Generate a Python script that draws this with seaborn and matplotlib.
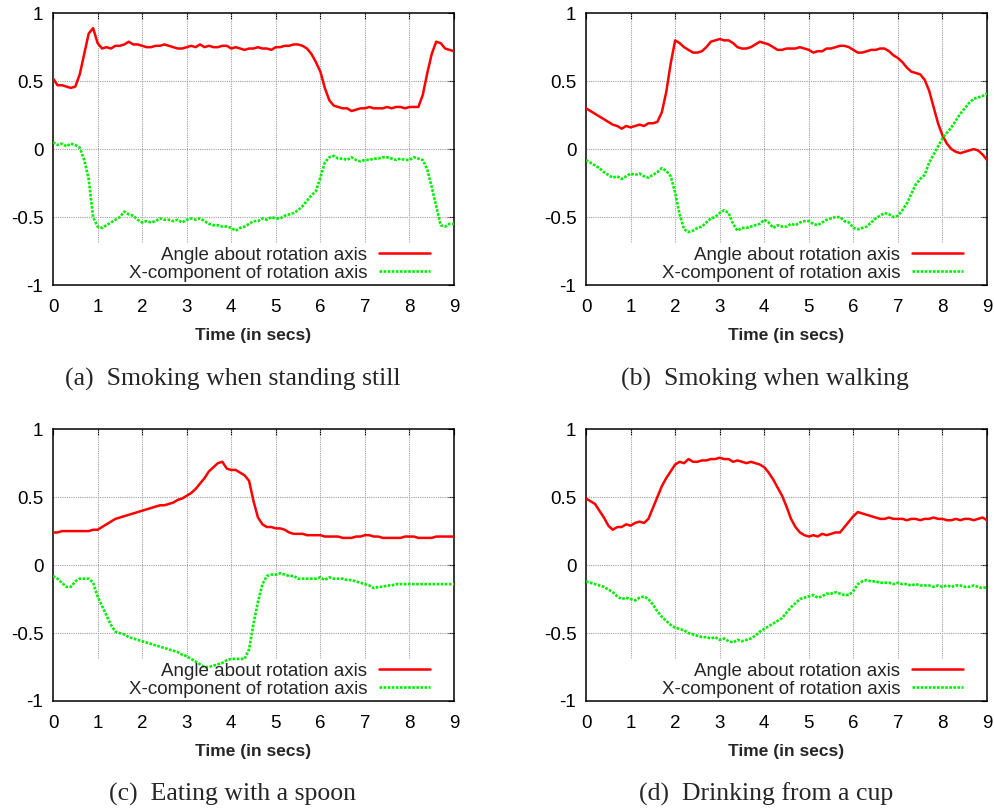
import numpy as np
import pandas as pd
import matplotlib
matplotlib.use("Agg")
import matplotlib.pyplot as plt
import seaborn as sns

# sample times (secs)
time = [0.0, 0.1, 0.2, 0.3, 0.4, 0.5, 0.6, 0.7, 0.8, 0.9,
        1.0, 1.1, 1.2, 1.3, 1.4, 1.5, 1.6, 1.7, 1.8, 1.9,
        2.0, 2.1, 2.2, 2.3, 2.4, 2.5, 2.6, 2.7, 2.8, 2.9,
        3.0, 3.1, 3.2, 3.3, 3.4, 3.5, 3.6, 3.7, 3.8, 3.9,
        4.0, 4.1, 4.2, 4.3, 4.4, 4.5, 4.6, 4.7, 4.8, 4.9,
        5.0, 5.1, 5.2, 5.3, 5.4, 5.5, 5.6, 5.7, 5.8, 5.9,
        6.0, 6.1, 6.2, 6.3, 6.4, 6.5, 6.6, 6.7, 6.8, 6.9,
        7.0, 7.1, 7.2, 7.3, 7.4, 7.5, 7.6, 7.7, 7.8, 7.9,
        8.0, 8.1, 8.2, 8.3, 8.4, 8.5, 8.6, 8.7, 8.8, 8.9, 9.0]

# (a) smoking when standing still
angle_a = [0.52, 0.47, 0.47, 0.46, 0.45, 0.46, 0.55, 0.70, 0.85, 0.89,
           0.78, 0.74, 0.75, 0.74, 0.76, 0.76, 0.77, 0.79, 0.77, 0.77,
           0.76, 0.75, 0.75, 0.76, 0.76, 0.77, 0.76, 0.75, 0.74, 0.74,
           0.75, 0.76, 0.75, 0.77, 0.75, 0.76, 0.75, 0.75, 0.76, 0.76,
           0.74, 0.75, 0.74, 0.73, 0.74, 0.74, 0.75, 0.74, 0.74, 0.73,
           0.75, 0.75, 0.76, 0.76, 0.77, 0.77, 0.76, 0.74, 0.70, 0.64,
           0.57, 0.45, 0.36, 0.32, 0.31, 0.30, 0.30, 0.28, 0.29, 0.30,
           0.30, 0.31, 0.30, 0.30, 0.30, 0.31, 0.30, 0.31, 0.31, 0.30,
           0.31, 0.31, 0.31, 0.40, 0.56, 0.70, 0.79, 0.78, 0.74, 0.73, 0.72]
xcomp_a = [0.05, 0.03, 0.04, 0.02, 0.04, 0.03, 0.01, -0.08, -0.22, -0.50,
           -0.57, -0.58, -0.56, -0.54, -0.52, -0.50, -0.46, -0.48, -0.49, -0.52,
           -0.54, -0.53, -0.54, -0.53, -0.51, -0.52, -0.52, -0.53, -0.52, -0.54,
           -0.52, -0.51, -0.52, -0.51, -0.53, -0.55, -0.56, -0.56, -0.57, -0.57,
           -0.58, -0.60, -0.58, -0.57, -0.55, -0.53, -0.53, -0.51, -0.52, -0.50,
           -0.51, -0.51, -0.49, -0.48, -0.47, -0.45, -0.42, -0.38, -0.34, -0.31,
           -0.21, -0.10, -0.06, -0.05, -0.07, -0.07, -0.08, -0.06, -0.08, -0.09,
           -0.08, -0.08, -0.07, -0.07, -0.06, -0.06, -0.07, -0.08, -0.07, -0.08,
           -0.08, -0.06, -0.07, -0.08, -0.15, -0.28, -0.42, -0.56, -0.57, -0.55, -0.55]

# (b) smoking when walking
angle_b = [0.30, 0.28, 0.26, 0.24, 0.22, 0.20, 0.18, 0.17, 0.15, 0.17,
           0.16, 0.17, 0.18, 0.17, 0.19, 0.19, 0.20, 0.27, 0.42, 0.63,
           0.80, 0.78, 0.75, 0.73, 0.71, 0.71, 0.72, 0.75, 0.79, 0.80,
           0.81, 0.80, 0.80, 0.78, 0.75, 0.74, 0.74, 0.75, 0.77, 0.79,
           0.78, 0.77, 0.75, 0.73, 0.73, 0.74, 0.74, 0.74, 0.75, 0.74,
           0.73, 0.71, 0.72, 0.72, 0.74, 0.74, 0.75, 0.76, 0.76, 0.75,
           0.73, 0.71, 0.71, 0.72, 0.73, 0.73, 0.74, 0.74, 0.72, 0.69,
           0.67, 0.64, 0.60, 0.57, 0.56, 0.55, 0.51, 0.43, 0.31, 0.19,
           0.10, 0.04, 0.00, -0.02, -0.03, -0.02, -0.01, 0.00, -0.01, -0.04, -0.08]
xcomp_b = [-0.08, -0.10, -0.12, -0.14, -0.17, -0.19, -0.21, -0.20, -0.22, -0.20,
           -0.18, -0.19, -0.18, -0.20, -0.21, -0.19, -0.17, -0.14, -0.16, -0.20,
           -0.32, -0.48, -0.59, -0.61, -0.60, -0.58, -0.57, -0.54, -0.51, -0.50,
           -0.47, -0.45, -0.47, -0.55, -0.60, -0.58, -0.58, -0.57, -0.56, -0.55,
           -0.52, -0.54, -0.58, -0.56, -0.57, -0.57, -0.55, -0.56, -0.54, -0.53,
           -0.53, -0.55, -0.56, -0.54, -0.52, -0.51, -0.50, -0.50, -0.53, -0.54,
           -0.58, -0.59, -0.58, -0.57, -0.54, -0.51, -0.49, -0.47, -0.48, -0.50,
           -0.49, -0.45, -0.40, -0.33, -0.26, -0.22, -0.19, -0.10, -0.04, 0.02,
           0.08, 0.12, 0.16, 0.21, 0.26, 0.30, 0.34, 0.37, 0.38, 0.39, 0.41]

# (c) eating with a spoon
angle_c = [0.24, 0.24, 0.25, 0.25, 0.25, 0.25, 0.25, 0.25, 0.25, 0.26,
           0.26, 0.28, 0.30, 0.32, 0.34, 0.35, 0.36, 0.37, 0.38, 0.39,
           0.40, 0.41, 0.42, 0.43, 0.44, 0.44, 0.45, 0.46, 0.48, 0.49,
           0.51, 0.53, 0.56, 0.60, 0.64, 0.69, 0.72, 0.75, 0.76, 0.71,
           0.70, 0.70, 0.68, 0.66, 0.62, 0.47, 0.35, 0.30, 0.28, 0.28,
           0.27, 0.27, 0.26, 0.24, 0.23, 0.23, 0.23, 0.22, 0.22, 0.22,
           0.22, 0.21, 0.21, 0.21, 0.21, 0.20, 0.20, 0.20, 0.21, 0.21,
           0.22, 0.22, 0.21, 0.21, 0.20, 0.20, 0.20, 0.20, 0.20, 0.21,
           0.21, 0.21, 0.20, 0.20, 0.20, 0.20, 0.21, 0.21, 0.21, 0.21, 0.21]
xcomp_c = [-0.08, -0.10, -0.13, -0.16, -0.16, -0.12, -0.10, -0.10, -0.10, -0.13,
           -0.23, -0.30, -0.37, -0.44, -0.49, -0.50, -0.51, -0.53, -0.54, -0.55,
           -0.56, -0.57, -0.58, -0.59, -0.60, -0.61, -0.62, -0.63, -0.64, -0.66,
           -0.67, -0.69, -0.71, -0.73, -0.75, -0.75, -0.74, -0.73, -0.72, -0.70,
           -0.69, -0.69, -0.69, -0.69, -0.62, -0.43, -0.27, -0.14, -0.08, -0.07,
           -0.07, -0.06, -0.07, -0.08, -0.08, -0.10, -0.10, -0.10, -0.10, -0.10,
           -0.09, -0.11, -0.09, -0.10, -0.10, -0.10, -0.11, -0.11, -0.12, -0.13,
           -0.14, -0.15, -0.17, -0.16, -0.16, -0.15, -0.15, -0.14, -0.14, -0.14,
           -0.14, -0.14, -0.14, -0.14, -0.14, -0.14, -0.14, -0.14, -0.14, -0.14, -0.14]

# (d) drinking from a cup
angle_d = [0.49, 0.47, 0.45, 0.40, 0.35, 0.29, 0.26, 0.28, 0.28, 0.30,
           0.29, 0.31, 0.32, 0.31, 0.34, 0.42, 0.50, 0.58, 0.64, 0.69,
           0.74, 0.76, 0.75, 0.78, 0.76, 0.76, 0.77, 0.77, 0.78, 0.78,
           0.79, 0.78, 0.78, 0.76, 0.77, 0.76, 0.75, 0.76, 0.75, 0.74,
           0.72, 0.68, 0.63, 0.57, 0.51, 0.43, 0.34, 0.28, 0.24, 0.22,
           0.21, 0.22, 0.21, 0.23, 0.22, 0.23, 0.24, 0.24, 0.28, 0.32,
           0.36, 0.39, 0.38, 0.37, 0.36, 0.35, 0.34, 0.34, 0.35, 0.34,
           0.34, 0.34, 0.33, 0.34, 0.34, 0.33, 0.34, 0.34, 0.35, 0.34,
           0.34, 0.33, 0.33, 0.34, 0.33, 0.34, 0.34, 0.33, 0.34, 0.35, 0.33]
xcomp_d = [-0.12, -0.13, -0.14, -0.15, -0.16, -0.18, -0.20, -0.23, -0.25, -0.24,
           -0.25, -0.26, -0.24, -0.23, -0.25, -0.29, -0.34, -0.38, -0.41, -0.44,
           -0.46, -0.47, -0.48, -0.50, -0.51, -0.52, -0.53, -0.53, -0.54, -0.53,
           -0.55, -0.54, -0.56, -0.57, -0.55, -0.56, -0.55, -0.54, -0.52, -0.49,
           -0.47, -0.45, -0.43, -0.41, -0.39, -0.35, -0.31, -0.28, -0.25, -0.24,
           -0.23, -0.22, -0.24, -0.23, -0.21, -0.21, -0.20, -0.21, -0.22, -0.22,
           -0.19, -0.14, -0.12, -0.11, -0.12, -0.12, -0.13, -0.13, -0.13, -0.14,
           -0.13, -0.14, -0.14, -0.15, -0.14, -0.15, -0.15, -0.15, -0.16, -0.15,
           -0.16, -0.15, -0.16, -0.15, -0.15, -0.16, -0.16, -0.15, -0.16, -0.17, -0.16]

captions = ["(a)  Smoking when standing still", "(b)  Smoking when walking",
            "(c)  Eating with a spoon", "(d)  Drinking from a cup"]
legend_labels = ["Angle about rotation axis", "X-component of rotation axis"]
x_ticks = [0, 1, 2, 3, 4, 5, 6, 7, 8, 9]
y_ticks = [-1, -0.5, 0, 0.5, 1]
y_ticklabels = ["-1", "-0.5", "0", "0.5", "1"]

sns.set_style("white")
plt.rcParams['font.family'] = ['Liberation Sans', 'DejaVu Sans']

fig = plt.figure(figsize=(9.95, 8.09), dpi=100)

# axes boxes in figure fractions: left, bottom, width, height
boxes = [[0.0533, 0.6477, 0.403, 0.336], [0.589, 0.6477, 0.403, 0.336],
         [0.0533, 0.1335, 0.403, 0.336], [0.589, 0.1335, 0.403, 0.336]]
cap_pos = [(0.234, 0.523), (0.769, 0.523), (0.234, 0.011), (0.770, 0.011)]
series = [(angle_a, xcomp_a), (angle_b, xcomp_b), (angle_c, xcomp_c), (angle_d, xcomp_d)]

for box, (ang, xc), cap, (cx, cy) in zip(boxes, series, captions, cap_pos):
    ax = fig.add_axes(box)
    df = pd.DataFrame({"t": time, "angle": ang, "xcomp": xc})

    # gnuplot-like grid: vertical lines stop above the key
    ax.vlines(x_ticks[1:-1], -0.68, 1, colors="#a0a0a0", linewidth=0.8,
              linestyles=(0, (1, 1)), zorder=1)
    ax.hlines(y_ticks[1:-1], 0, 9, colors="#a0a0a0", linewidth=0.8,
              linestyles=(0, (1, 1)), zorder=1)

    sns.lineplot(data=df, x="t", y="angle", ax=ax, color="#ff0000",
                 linewidth=1.8, label=legend_labels[0], zorder=3)
    sns.lineplot(data=df, x="t", y="xcomp", ax=ax, color="#00ee00",
                 linewidth=1.9, linestyle=(0, (1.0, 0.55)), label=legend_labels[1], zorder=3)

    ax.set_xlim(0, 9)
    ax.set_ylim(-1, 1)
    ax.set_xticks(x_ticks)
    ax.set_yticks(y_ticks)
    ax.set_yticklabels(y_ticklabels)
    ax.tick_params(direction="in", length=4, width=0.8, top=True, right=True,
                   labelsize=13.5, colors="black")
    ax.tick_params(axis="x", pad=10)
    ax.tick_params(axis="y", pad=7)
    for s in ax.spines.values():
        s.set_color("black")
        s.set_linewidth(1.1)
    ax.set_xlabel("Time (in secs)", fontsize=12.5, fontweight="bold", labelpad=9)
    ax.set_ylabel("")

    leg = ax.legend(loc="lower right", bbox_to_anchor=(0.94, 0.012), frameon=False,
                    markerfirst=False, fontsize=13.5, handlelength=2.7,
                    handletextpad=0.65, borderpad=0, borderaxespad=0,
                    labelspacing=0.05)
    # right-align the key entries like gnuplot
    for col in leg._legend_handle_box.get_children():
        col.align = "right"

    fig.text(cx, cy, cap, ha="center", va="baseline", fontsize=18.5,
             family=["Liberation Serif", "DejaVu Serif"])

fig.savefig("out.png", dpi=100)
